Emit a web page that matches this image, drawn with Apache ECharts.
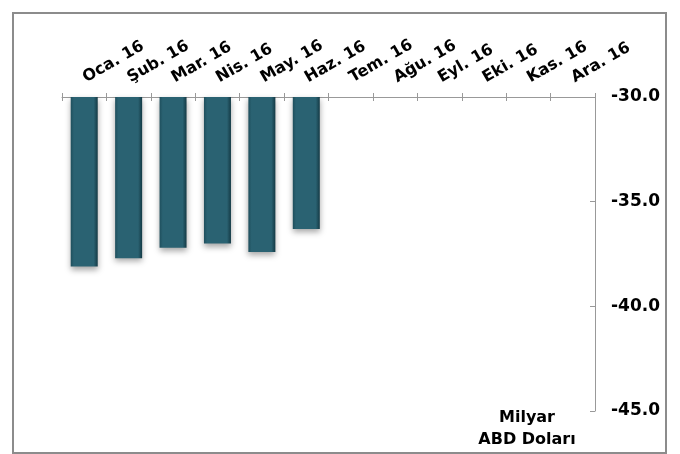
<!DOCTYPE html>
<html><head><meta charset="utf-8">
<script src="https://cdn.jsdelivr.net/npm/echarts@6/dist/echarts.min.js"></script>
<style>html,body{margin:0;padding:0;background:#fff}#c{width:680px;height:454px}</style>
</head><body><div id="c"></div>
<script>
var categories = ['Oca. 16','Şub. 16','Mar. 16','Nis. 16','May. 16','Haz. 16','Tem. 16','Ağu. 16','Eyl. 16','Eki. 16','Kas. 16','Ara. 16'];
var values = [-38.1, -37.7, -37.2, -37.0, -37.4, -36.3, null, null, null, null, null, null];
var unitLabel = 'Milyar\nABD Doları';
var font = 'DejaVu Sans';
var chart = echarts.init(document.getElementById('c'));
chart.setOption({
  animation: false,
  graphic: [
    {type:'rect', shape:{x:13,y:13,width:653,height:440}, style:{fill:'none',stroke:'#8c8c8c',lineWidth:2}},
    {type:'text', x: 527, y: 407, style:{text: unitLabel, font:'bold 16px "DejaVu Sans"', fill:'#000', align:'center', lineHeight:22}}
  ],
  grid: {left: 62, right: 85, top: 97, bottom: 43},
  xAxis: [{
    type:'category', data: categories, position:'top',
    axisLine:{show:true, onZero:false, lineStyle:{color:'#999', width:1}},
    axisTick:{show:true, interval:0, length:4, lineStyle:{color:'#999'}},
    axisLabel:{interval:0, rotate:-30, margin:18, fontFamily:font, fontWeight:'bold', fontSize:16, color:'#000'}
  },{
    type:'category', data: categories, position:'top', offset:0,
    axisLine:{show:false},
    axisTick:{show:true, interval:0, inside:true, length:4, lineStyle:{color:'#999'}},
    axisLabel:{show:false}
  }],
  yAxis: {
    type:'value', position:'right', min:-45, max:-30, interval:5,
    axisLine:{show:true, onZero:false, lineStyle:{color:'#999'}},
    axisTick:{show:true, inside:true, length:5, lineStyle:{color:'#999'}},
    splitLine:{show:false},
    axisLabel:{margin:16, fontFamily:font, fontWeight:'bold', fontSize:17, color:'#000',
      formatter:function(v){return v.toFixed(1);}}
  },
  series: [{
    type:'bar', data: values, barWidth: 27, clip: true,
    itemStyle:{
      color: new echarts.graphic.LinearGradient(0,0,1,0,[
        {offset:0,color:'#1f4f5d'},{offset:0.12,color:'#2a6272'},
        {offset:0.85,color:'#2a6272'},{offset:1,color:'#143a45'}]),
      shadowColor:'rgba(0,0,0,0.35)', shadowBlur:6, shadowOffsetY:3
    }
  }]
});
</script></body></html>
